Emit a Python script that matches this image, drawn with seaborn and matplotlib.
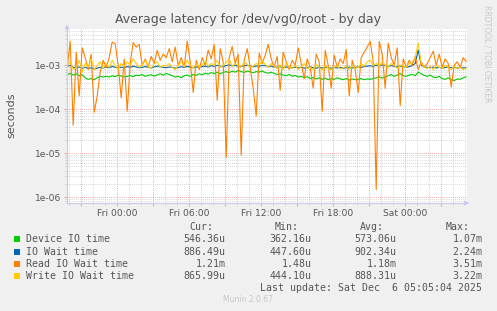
import pandas as pd
import numpy as np
import matplotlib
matplotlib.use("Agg")
import matplotlib.pyplot as plt
import matplotlib.dates as mdates
from matplotlib.ticker import FuncFormatter, LogLocator, NullFormatter
from matplotlib.patches import Rectangle
import seaborn as sns

# values in microseconds, one sample every 15 minutes from Thu 19:52
device_io = [620, 650, 600, 640, 580, 610,
             520, 480, 500, 470, 520, 560, 540,
             560, 540, 580, 550, 600, 570, 540, 560, 590, 550, 600, 580, 620, 560, 590, 610, 570, 600,
             640, 600, 650, 620, 580, 540, 560, 520, 580, 600, 560, 620, 590, 640, 610,
             660, 630, 680, 650, 700, 640, 690, 720, 680, 740, 700, 760, 720, 690, 740, 710, 680, 720,
             700, 740, 690, 660, 700, 650, 620,
             640, 600, 580, 620, 560, 590, 540, 560, 520, 550, 500, 530, 490, 520, 480, 510, 470, 500,
             480, 520, 490, 470, 500, 460, 490, 470, 480, 500, 470, 490,
             480, 500, 520, 550, 510, 540, 580, 620, 560, 600, 650, 580, 560, 600, 620, 580, 700, 640,
             590, 560, 600, 540, 520, 560, 500, 480, 520, 470, 450, 490, 480, 520, 546]

io_wait = [950, 1000, 900, 880, 920, 860, 900, 850, 880, 820, 860, 900, 870, 920, 880, 950, 900,
           870, 910, 880, 940, 900, 960, 920, 880, 900, 940, 910, 870, 920, 960, 930, 900, 880,
           920, 900, 860, 890, 930, 900, 950, 910, 880, 920, 900, 940, 960, 920, 980, 950, 1000,
           960, 930, 990, 1020, 970, 1000, 960, 940, 980, 1010, 960, 930, 970, 950, 1000, 980,
           940, 960, 920, 900, 940, 880, 920, 900, 870, 910, 880, 900, 860, 890, 920, 880, 860,
           900, 870, 910, 880, 850, 890, 870, 900, 860, 880, 910, 870, 890, 930, 900, 940, 960,
           980, 950, 1000, 960, 1020, 980, 940, 990, 950, 920, 960, 930, 900, 940, 980, 1100,
           2240, 1000, 920, 900, 880, 910, 870, 900, 860, 890, 920, 880, 900, 860, 890, 870, 886]

read_wait = [900, 3500, 43, 2000, 200, 2500, 1500, 800, 1800, 85, 200, 700, 1300, 900, 1500,
             3400, 3100, 1000, 180, 1400, 90, 1100, 3300, 2600, 3000, 1000, 1400, 900, 1600, 1100,
             2200, 1300, 1800, 1500, 2400, 1200, 2600, 1000, 1500, 900, 3600, 1200, 240, 1300, 800,
             1500, 1000, 2200, 1400, 3000, 160, 2400, 1200, 8, 1500, 2700, 1100, 1800, 9, 1300,
             2400, 900, 300, 70, 1900, 1100, 1700, 3000, 1400, 900, 1600, 270, 2000, 1200, 800,
             1300, 1000, 2500, 1100, 500, 1400, 900, 300, 1800, 1200, 90, 2200, 1000, 300, 1700,
             900, 1400, 1100, 2300, 200, 1300, 800, 240, 1500, 2000, 2600, 3510, 1200, 1.48, 3500,
             1800, 300, 3200, 1500, 1000, 2500, 120, 1400, 900, 1300, 1000, 1600, 800, 1200, 900,
             1100, 1500, 2100, 1000, 1800, 900, 1400, 1100, 320, 1000, 1200, 900, 1500, 1210]

write_wait = [1000, 1200, 800, 900, 1300, 700, 1100, 900, 1400, 800, 1000, 1200, 850, 1100, 900,
              1300, 1000, 800, 1100, 950, 1200, 1000, 1400, 1100, 900, 1000, 1300, 950, 850, 1100,
              1200, 900, 1000, 950,
              1100, 900, 800, 1000, 1200, 950, 1300, 1000, 850, 1100, 900, 1000, 1250, 950, 1100,
              1000, 1300, 900, 1000, 1150, 1400, 950, 1100, 1000, 900, 1200, 1050, 900, 950, 1100,
              1000, 1300, 1050,
              900, 1100, 950, 850, 1000, 800, 1100, 900, 850, 1000, 800, 950, 1100, 850, 900, 800,
              1050, 900, 780, 1000, 850, 800, 900, 1000, 820, 880, 950, 800, 1000, 850, 900, 1100,
              950, 1200,
              1300, 1000, 1100, 950, 1200, 1000, 900, 1100, 1000, 850, 1000, 950, 900, 1100, 1200,
              1500, 3220, 1100, 900, 850, 950, 800, 1000, 900, 850, 1000, 900, 800, 950, 850, 900,
              800, 866]

series_names = ["Device IO time", "IO Wait time", "Read IO Wait time", "Write IO Wait time"]
series_colors = ["#00CC00", "#0066B3", "#FF8000", "#FFCC00"]
cur_vals = ["546.36u", "886.49u", "1.21m", "865.99u"]
min_vals = ["362.16u", "447.60u", "1.48u", "444.10u"]
avg_vals = ["573.06u", "902.34u", "1.18m", "888.31u"]
max_vals = ["1.07m", "2.24m", "3.51m", "3.22m"]

times = pd.date_range("2025-12-04 19:52", periods=len(device_io), freq="15min")

frames = []
for name, vals in zip(series_names, [device_io, io_wait, read_wait, write_wait]):
    frames.append(pd.DataFrame({"time": times, "seconds": np.array(vals) * 1e-6, "series": name}))
df = pd.concat(frames, ignore_index=True)

sns.set_theme(style="white")
plt.rcParams["font.family"] = ["DejaVu Sans"]

W, H = 497, 311
fig = plt.figure(figsize=(W / 100, H / 100), dpi=100, facecolor="#F0F0F0")


def fx(x):
    return x / W


def fy(y):
    return 1 - y / H


ax = fig.add_axes([fx(67), fy(203), fx(467) - fx(67), fy(28.5) - fy(203)])
ax.set_facecolor("white")

sns.lineplot(data=df, x="time", y="seconds", hue="series", hue_order=series_names,
             palette=series_colors, linewidth=0.8, estimator=None, legend=False, ax=ax)

ax.set_yscale("log")
ax.set_ylim(7.3e-7, 6.9e-3)
ax.set_xlim(pd.Timestamp("2025-12-04 19:51"), pd.Timestamp("2025-12-06 05:11"))

ax.yaxis.set_major_locator(LogLocator(base=10, numticks=10))
ax.yaxis.set_minor_locator(LogLocator(base=10, subs=np.arange(2, 10), numticks=20))
ax.yaxis.set_major_formatter(FuncFormatter(lambda v, p: f"{v:.0e}"))
ax.yaxis.set_minor_formatter(NullFormatter())

ax.xaxis.set_major_locator(mdates.HourLocator(byhour=range(0, 24, 3)))
ax.xaxis.set_minor_locator(mdates.HourLocator())


def xfmt(v, pos):
    d = mdates.num2date(v)
    return d.strftime("%a %H:%M") if d.hour % 6 == 0 else ""


ax.xaxis.set_major_formatter(FuncFormatter(xfmt))

ax.grid(which="minor", color="#C8C8C8", linestyle=(0, (1, 1.5)), linewidth=0.6)
ax.grid(which="major", color="#F09090", linestyle=(0, (1, 1.5)), linewidth=0.6)
ax.set_axisbelow(True)

ax.tick_params(which="major", direction="out", length=2, width=0.6, color="#F09090",
               labelsize=6.6, labelcolor="#555555", pad=2)
ax.tick_params(which="minor", direction="out", length=1.5, width=0.6, color="#C8C8C8")
ax.tick_params(axis="x", which="both", bottom=True)
ax.tick_params(axis="y", which="both", left=True)
ax.set_xlabel("")
ax.set_ylabel("")

for s in ["top", "right"]:
    ax.spines[s].set_visible(False)
for s in ["left", "bottom"]:
    ax.spines[s].set_color("#C8C8F0")
    ax.spines[s].set_linewidth(0.8)

# axis arrows
ax.annotate("", xy=(0, 1.04), xytext=(0, 0.99), xycoords="axes fraction",
            arrowprops=dict(arrowstyle="-|>", color="#C8C8F0", lw=0.8, mutation_scale=6))
ax.annotate("", xy=(1.012, 0), xytext=(0.99, 0), xycoords="axes fraction",
            arrowprops=dict(arrowstyle="-|>", color="#C8C8F0", lw=0.8, mutation_scale=6))

fig.text(fx(248), fy(19), "Average latency for /dev/vg0/root - by day", ha="center", va="center",
         fontsize=9, color="#555555")
fig.text(fx(11), fy(115), "seconds", rotation=90, ha="center", va="center",
         fontsize=8, color="#555555")
fig.text(fx(487), fy(5), "RRDTOOL / TOBI OETIKER", rotation=270, ha="center", va="top",
         fontsize=5.5, color="#C8C8C8")

mono = dict(family="DejaVu Sans Mono", fontsize=7.1, color="#555555", va="center")
for head, xr in zip(["Cur:", "Min:", "Avg:", "Max:"], [213, 299, 384, 470]):
    fig.text(fx(xr), fy(227.3), head, ha="right", **mono)

rows_y = [239.3, 251.7, 263.7, 275.7]
for i, name in enumerate(series_names):
    y = rows_y[i]
    fig.patches.append(Rectangle((fx(14), fy(y + 3)), fx(6), fy(0) - fy(6),
                                 transform=fig.transFigure, facecolor=series_colors[i],
                                 edgecolor="none"))
    fig.text(fx(26), fy(y), name, ha="left", **mono)
    for vals, xr in zip([cur_vals, min_vals, avg_vals, max_vals], [225.7, 311.7, 396.7, 482.3]):
        fig.text(fx(xr), fy(y), vals[i], ha="right", **mono)

fig.text(fx(482.3), fy(287.7), "Last update: Sat Dec  6 05:05:04 2025", ha="right", **mono)
fig.text(fx(248), fy(300), "Munin 2.0.67", ha="center", va="center", fontsize=5.5, color="#C8C8C8")

fig.savefig("out.png", dpi=100, facecolor="#F0F0F0")
plt.close(fig)
